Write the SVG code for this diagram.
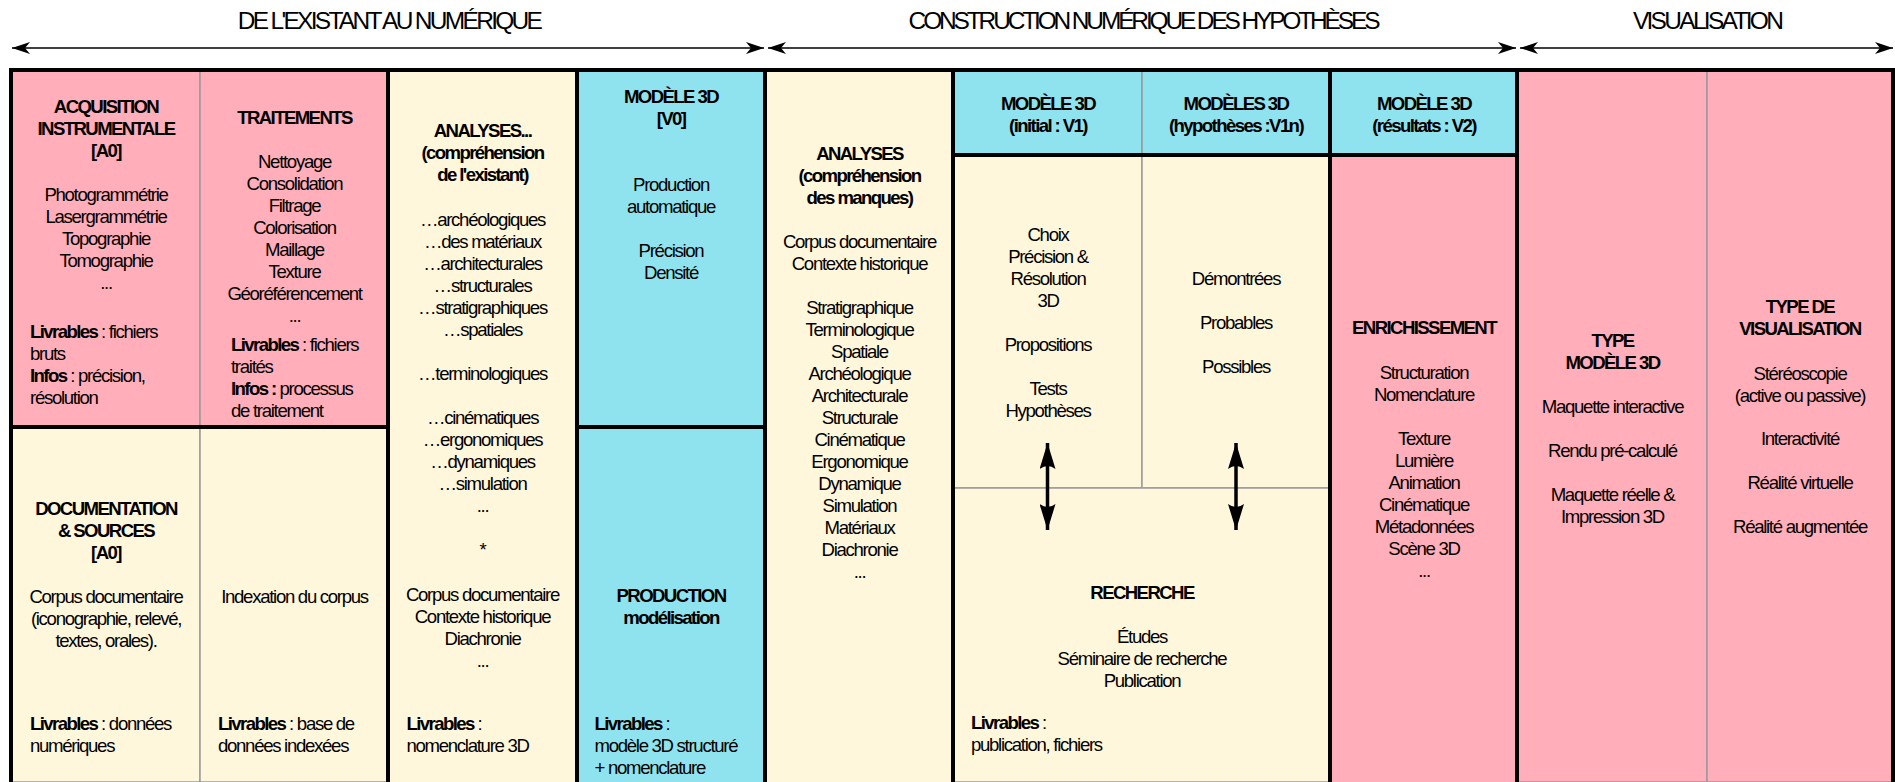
<svg xmlns="http://www.w3.org/2000/svg" width="1895" height="782" viewBox="0 0 1895 782">
<style>
.t{font-family:"Liberation Sans",Arial,sans-serif;font-size:18.6px;letter-spacing:-1.3px;fill:#000}
.c{text-anchor:middle}
.b{font-weight:bold;letter-spacing:-1.6px}
.h{font-size:24.5px;letter-spacing:-2.7px}
.pink{fill:#FFAEBA}
.cream{fill:#FFF7DC}
.cyan{fill:#8FE3EE}
.cell{stroke:#9a9a9a;stroke-width:1.5}
.thick{stroke:#000;stroke-width:4;fill:none}
.arr{stroke:#000;stroke-width:1.5;fill:none;marker-start:url(#ah);marker-end:url(#ah)}
.darr{stroke:#000;stroke-width:3.5;fill:none;marker-start:url(#dh);marker-end:url(#dh)}
</style>
<defs>
<marker id="ah" markerUnits="userSpaceOnUse" viewBox="0 0 18 12" refX="18" refY="6" markerWidth="18" markerHeight="12" orient="auto-start-reverse">
<path d="M0,0 L18,6 L0,12 L5,6 Z" fill="#000"/>
</marker>
<marker id="dh" markerUnits="userSpaceOnUse" viewBox="0 0 26 16" refX="26" refY="8" markerWidth="26" markerHeight="16" orient="auto-start-reverse">
<path d="M0,0 L26,8 L0,16 Q6,8 0,0 Z" fill="#000"/>
</marker>
</defs>
<rect width="1895" height="782" fill="#fff"/>

<g id="phase-titles">
<text class="t h c" x="389" y="29">DE L'EXISTANT AU NUMÉRIQUE</text>
<text class="t h c" x="1143" y="29" style="letter-spacing:-3.15px">CONSTRUCTION NUMÉRIQUE DES HYPOTHÈSES</text>
<text class="t h c" x="1707" y="29">VISUALISATION</text>
</g>

<g id="acquisition">
<rect class="pink cell" x="11" y="70" width="189" height="357"/>
<text class="t b c" x="106" y="113">ACQUISITION</text>
<text class="t b c" x="106" y="135">INSTRUMENTALE</text>
<text class="t b c" x="106" y="157">[A0]</text>
<text class="t c" x="106" y="201">Photogrammétrie</text>
<text class="t c" x="106" y="223">Lasergrammétrie</text>
<text class="t c" x="106" y="245">Topographie</text>
<text class="t c" x="106" y="267">Tomographie</text>
<text class="t c" x="106" y="289">...</text>
<text class="t" x="30" y="338"><tspan class="b">Livrables</tspan> : fichiers</text>
<text class="t" x="30" y="360">bruts</text>
<text class="t" x="30" y="382"><tspan class="b">Infos</tspan> : précision,</text>
<text class="t" x="30" y="404">résolution</text>
</g>

<g id="traitements">
<rect class="pink cell" x="200" y="70" width="188" height="357"/>
<text class="t b c" x="294.5" y="124">TRAITEMENTS</text>
<text class="t c" x="294.5" y="168">Nettoyage</text>
<text class="t c" x="294.5" y="190">Consolidation</text>
<text class="t c" x="294.5" y="212">Filtrage</text>
<text class="t c" x="294.5" y="234">Colorisation</text>
<text class="t c" x="294.5" y="256">Maillage</text>
<text class="t c" x="294.5" y="278">Texture</text>
<text class="t c" x="294.5" y="300">Géoréférencement</text>
<text class="t c" x="294.5" y="322">...</text>
<text class="t" x="231" y="351"><tspan class="b">Livrables</tspan> : fichiers</text>
<text class="t" x="231" y="373">traités</text>
<text class="t" x="231" y="395"><tspan class="b">Infos :</tspan> processus</text>
<text class="t" x="231" y="417">de traitement</text>
</g>

<g id="documentation">
<rect class="cream cell" x="11" y="427" width="189" height="355"/>
<text class="t b c" x="106" y="515">DOCUMENTATION</text>
<text class="t b c" x="106" y="537">&amp; SOURCES</text>
<text class="t b c" x="106" y="559">[A0]</text>
<text class="t c" x="106" y="603">Corpus documentaire</text>
<text class="t c" x="106" y="625">(iconographie, relevé,</text>
<text class="t c" x="106" y="647">textes, orales).</text>
<text class="t" x="30" y="730"><tspan class="b">Livrables</tspan> : données</text>
<text class="t" x="30" y="752">numériques</text>
</g>

<g id="indexation">
<rect class="cream cell" x="200" y="427" width="188" height="355"/>
<text class="t c" x="294.5" y="603">Indexation du corpus</text>
<text class="t" x="218" y="730"><tspan class="b">Livrables</tspan> : base de</text>
<text class="t" x="218" y="752">données indexées</text>
</g>

<g id="analyses-existant">
<rect class="cream" x="388" y="70" width="189" height="712"/>
<text class="t b c" x="482.5" y="137">ANALYSES...</text>
<text class="t b c" x="482.5" y="159">(compréhension</text>
<text class="t b c" x="482.5" y="181">de l'existant)</text>
<text class="t c" x="482.5" y="226">…archéologiques</text>
<text class="t c" x="482.5" y="248">…des matériaux</text>
<text class="t c" x="482.5" y="270">…architecturales</text>
<text class="t c" x="482.5" y="292">…structurales</text>
<text class="t c" x="482.5" y="314">…stratigraphiques</text>
<text class="t c" x="482.5" y="336">…spatiales</text>
<text class="t c" x="482.5" y="380">…terminologiques</text>
<text class="t c" x="482.5" y="424">…cinématiques</text>
<text class="t c" x="482.5" y="446">…ergonomiques</text>
<text class="t c" x="482.5" y="468">…dynamiques</text>
<text class="t c" x="482.5" y="490">…simulation</text>
<text class="t c" x="482.5" y="512">...</text>
<text class="t c" x="482.5" y="556">*</text>
<text class="t c" x="482.5" y="601">Corpus documentaire</text>
<text class="t c" x="482.5" y="623">Contexte historique</text>
<text class="t c" x="482.5" y="645">Diachronie</text>
<text class="t c" x="482.5" y="667">...</text>
<text class="t" x="406.5" y="730"><tspan class="b">Livrables</tspan> :</text>
<text class="t" x="406.5" y="752">nomenclature 3D</text>
</g>

<g id="modele-v0">
<rect class="cyan" x="577" y="70" width="188" height="357"/>
<text class="t b c" x="671" y="103">MODÈLE 3D</text>
<text class="t b c" x="671" y="125">[V0]</text>
<text class="t c" x="671" y="191">Production</text>
<text class="t c" x="671" y="213">automatique</text>
<text class="t c" x="671" y="257">Précision</text>
<text class="t c" x="671" y="279">Densité</text>
</g>

<g id="production">
<rect class="cyan" x="577" y="427" width="188" height="355"/>
<text class="t b c" x="671" y="602">PRODUCTION</text>
<text class="t b c" x="671" y="624">modélisation</text>
<text class="t" x="594.5" y="730"><tspan class="b">Livrables</tspan> :</text>
<text class="t" x="594.5" y="752">modèle 3D structuré</text>
<text class="t" x="594.5" y="774">+ nomenclature</text>
</g>

<g id="analyses-manques">
<rect class="cream" x="765" y="70" width="188" height="712"/>
<text class="t b c" x="859.5" y="160">ANALYSES</text>
<text class="t b c" x="859.5" y="182">(compréhension</text>
<text class="t b c" x="859.5" y="204">des manques)</text>
<text class="t c" x="859.5" y="248">Corpus documentaire</text>
<text class="t c" x="859.5" y="270">Contexte historique</text>
<text class="t c" x="859.5" y="314">Stratigraphique</text>
<text class="t c" x="859.5" y="336">Terminologique</text>
<text class="t c" x="859.5" y="358">Spatiale</text>
<text class="t c" x="859.5" y="380">Archéologique</text>
<text class="t c" x="859.5" y="402">Architecturale</text>
<text class="t c" x="859.5" y="424">Structurale</text>
<text class="t c" x="859.5" y="446">Cinématique</text>
<text class="t c" x="859.5" y="468">Ergonomique</text>
<text class="t c" x="859.5" y="490">Dynamique</text>
<text class="t c" x="859.5" y="512">Simulation</text>
<text class="t c" x="859.5" y="534">Matériaux</text>
<text class="t c" x="859.5" y="556">Diachronie</text>
<text class="t c" x="859.5" y="578">...</text>
</g>

<g id="modele-v1-header">
<rect class="cyan cell" x="953" y="70" width="189" height="85"/>
<text class="t b c" x="1048" y="110">MODÈLE 3D</text>
<text class="t b c" x="1048" y="132">(initial : V1)</text>
</g>

<g id="modeles-v1n-header">
<rect class="cyan cell" x="1142" y="70" width="188" height="85"/>
<text class="t b c" x="1236" y="110">MODÈLES 3D</text>
<text class="t b c" x="1236" y="132">(hypothèses :V1n)</text>
</g>

<g id="modele-v1-body">
<rect class="cream cell" x="953" y="155" width="189" height="333"/>
<text class="t c" x="1048" y="241">Choix</text>
<text class="t c" x="1048" y="263">Précision &amp;</text>
<text class="t c" x="1048" y="285">Résolution</text>
<text class="t c" x="1048" y="307">3D</text>
<text class="t c" x="1048" y="351">Propositions</text>
<text class="t c" x="1048" y="395">Tests</text>
<text class="t c" x="1048" y="417">Hypothèses</text>
</g>

<g id="modeles-v1n-body">
<rect class="cream cell" x="1142" y="155" width="188" height="333"/>
<text class="t c" x="1236" y="285">Démontrées</text>
<text class="t c" x="1236" y="329">Probables</text>
<text class="t c" x="1236" y="373">Possibles</text>
</g>

<g id="recherche">
<rect class="cream cell" x="953" y="488" width="377" height="294"/>
<text class="t b c" x="1142" y="599">RECHERCHE</text>
<text class="t c" x="1142" y="643">Études</text>
<text class="t c" x="1142" y="665">Séminaire de recherche</text>
<text class="t c" x="1142" y="687">Publication</text>
<text class="t" x="971" y="729"><tspan class="b">Livrables</tspan> :</text>
<text class="t" x="971" y="751">publication, fichiers</text>
</g>

<g id="modele-v2-header">
<rect class="cyan" x="1330" y="70" width="187" height="85"/>
<text class="t b c" x="1424" y="110">MODÈLE 3D</text>
<text class="t b c" x="1424" y="132">(résultats : V2)</text>
</g>

<g id="enrichissement">
<rect class="pink" x="1330" y="155" width="187" height="627"/>
<text class="t b c" x="1424" y="334">ENRICHISSEMENT</text>
<text class="t c" x="1424" y="379">Structuration</text>
<text class="t c" x="1424" y="401">Nomenclature</text>
<text class="t c" x="1424" y="445">Texture</text>
<text class="t c" x="1424" y="467">Lumière</text>
<text class="t c" x="1424" y="489">Animation</text>
<text class="t c" x="1424" y="511">Cinématique</text>
<text class="t c" x="1424" y="533">Métadonnées</text>
<text class="t c" x="1424" y="555">Scène 3D</text>
<text class="t c" x="1424" y="577">...</text>
</g>

<g id="type-modele">
<rect class="pink cell" x="1517" y="70" width="190" height="712"/>
<text class="t b c" x="1612.5" y="347">TYPE</text>
<text class="t b c" x="1612.5" y="369">MODÈLE 3D</text>
<text class="t c" x="1612.5" y="413">Maquette interactive</text>
<text class="t c" x="1612.5" y="457">Rendu pré-calculé</text>
<text class="t c" x="1612.5" y="501">Maquette réelle &amp;</text>
<text class="t c" x="1612.5" y="523">Impression 3D</text>
</g>

<g id="type-visualisation">
<rect class="pink cell" x="1707" y="70" width="188" height="712"/>
<text class="t b c" x="1800" y="313">TYPE DE</text>
<text class="t b c" x="1800" y="335">VISUALISATION</text>
<text class="t c" x="1800" y="380">Stéréoscopie</text>
<text class="t c" x="1800" y="402">(active ou passive)</text>
<text class="t c" x="1800" y="445">Interactivité</text>
<text class="t c" x="1800" y="489">Réalité virtuelle</text>
<text class="t c" x="1800" y="533">Réalité augmentée</text>
</g>

<g id="frame">
<path class="thick" d="M9,70 H1895 M11,68 V782 M1893,68 V782 M388,70 V782 M577,70 V782 M765,70 V782 M953,70 V782 M1330,70 V782 M1517,70 V782 M11,427 H388 M577,427 H765 M953,155 H1517"/>
</g>

<g id="connectors">
<line class="arr" x1="12" y1="48" x2="764" y2="48"/>
<line class="arr" x1="768" y1="48" x2="1516" y2="48"/>
<line class="arr" x1="1520" y1="48" x2="1893" y2="48"/>
<line class="darr" x1="1047.5" y1="443" x2="1047.5" y2="530"/>
<line class="darr" x1="1236" y1="443" x2="1236" y2="530"/>
</g>
</svg>
